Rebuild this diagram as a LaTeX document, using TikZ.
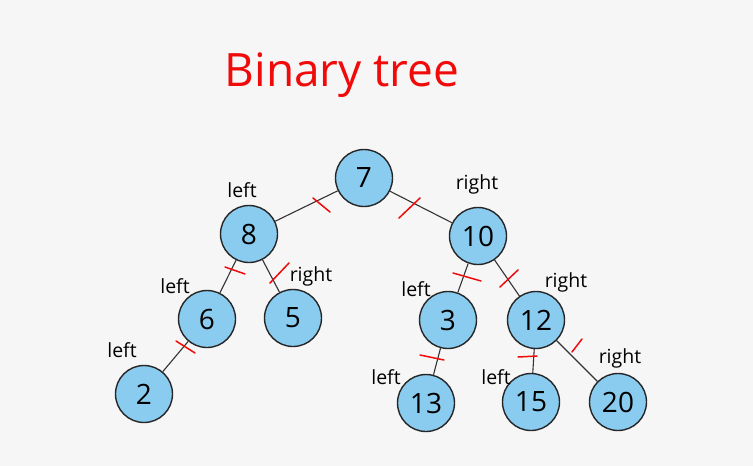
\documentclass[tikz,border=0pt]{standalone}
\usepackage{fontspec}
\setmainfont{Open Sans}
\begin{document}
\begin{tikzpicture}[x=1pt,y=-1pt,
  tnode/.style={circle,draw=black!85,line width=1.4pt,fill=nodeblue,minimum size=57pt,inner sep=0pt,font=\fontsize{28}{30}\selectfont},
  edge/.style={draw=black!80,line width=1.1pt},
  lbl/.style={font=\fontsize{19.5}{21}\selectfont,inner sep=0pt},
  tick/.style={draw=tickred,line width=1.5pt,line cap=round}]
\definecolor{nodeblue}{HTML}{8ACCF0}
\definecolor{tickred}{HTML}{F00A0A}
\definecolor{bg}{HTML}{F6F6F6}
\fill[bg] (0,0) rectangle (753,466);
\useasboundingbox (0,0) rectangle (753,466);
\node[text=tickred,font=\fontsize{46}{50}\selectfont,anchor=base] (title) at (342,86) {Binary tree};
% nodes
\node[tnode] (n7) at (364,178) {7};
\node[tnode] (n8) at (249,234) {8};
\node[tnode] (n10) at (478,236) {10};
\node[tnode] (n6) at (207,319) {6};
\node[tnode] (n5) at (293,318) {5};
\node[tnode] (n2) at (144,394) {2};
\node[tnode] (n3) at (448,320) {3};
\node[tnode] (n12) at (536,320) {12};
\node[tnode] (n13) at (426,403) {13};
\node[tnode] (n15) at (531,402) {15};
\node[tnode] (n20) at (618,402) {20};
% edges
\path[edge] (n7) -- (n8);
\path[edge] (n7) -- (n10);
\path[edge] (n8) -- (n6);
\path[edge] (n8) -- (n5);
\path[edge] (n6) -- (n2);
\path[edge] (n10) -- (n3);
\path[edge] (n10) -- (n12);
\path[edge] (n3) -- (n13);
\path[edge] (n12) -- (n15);
\path[edge] (n12) -- (n20);
% ticks
\draw[tick] (313,198) -- (330,212);
\draw[tick] (420,198) -- (399,218);
\draw[tick] (225,267) -- (245,274);
\draw[tick] (289,263) -- (270,283);
\draw[tick] (176,341) -- (195,353);
\draw[tick] (453,273) -- (481,281);
\draw[tick] (518,270) -- (500,287);
\draw[tick] (420,355) -- (444,360);
\draw[tick] (518,357) .. controls (528,356) .. (537,356);
\draw[tick] (582,339) -- (572,352);
% labels
\node[lbl] (l8) at (242,190) {left};
\node[lbl] (r10) at (477,184) {right};
\node[lbl] (l6) at (175,286) {left};
\node[lbl] (r5) at (311,276) {right};
\node[lbl] (l2) at (122,350) {left};
\node[lbl] (l3) at (416,289) {left};
\node[lbl] (r12) at (566,282) {right};
\node[lbl] (l13) at (386,377) {left};
\node[lbl] (l15) at (496,377) {left};
\node[lbl] (r20) at (620,358) {right};
\end{tikzpicture}
\end{document}
